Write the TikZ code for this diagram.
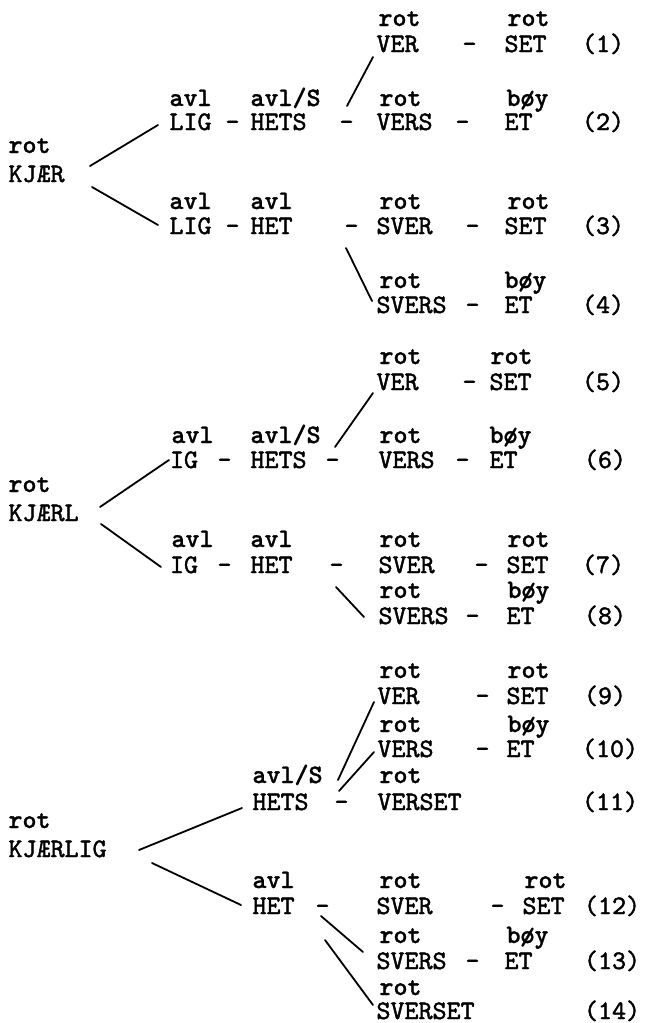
\documentclass[tikz,border=0pt]{standalone}
\usepackage{fontspec}
\newfontfamily\twr{lmmono10-regular.otf}[FakeBold=1.6]
\newfontfamily\twb{lmmonolt10-bold.otf}[FakeBold=1.0]
\begin{document}
\begin{tikzpicture}[x=1pt,y=-1pt,
  w/.style={anchor=base west,inner sep=0pt,outer sep=0pt,font=\twr\fontsize{26.7}{30}\selectfont},
  lb/.style={anchor=base west,inner sep=0pt,outer sep=0pt,font=\twb\fontsize{26.7}{30}\selectfont},
  conn/.style={line width=1.8pt,line cap=round}]
\fill[white] (0,0) rectangle (659,1023);
\useasboundingbox (0,0) rectangle (659,1023);
% ---------- roots
\node[lb] (ra) at (8.5,153) {rot};
\node[w]  (rA) at (8.5,182) {KJÆR};
\node[lb] (rb) at (8.5,492) {rot};
\node[w]  (rB) at (8.5,521) {KJÆRL};
\node[lb] (rc) at (8.5,828) {rot};
\node[w]  (rC) at (8.5,857) {KJÆRLIG};
% ---------- row 1
\node[lb] (l1a) at (378.5,26) {rot};
\node[lb] (l1b) at (507.5,26) {rot};
\node[w] (w1a) at (376.5,52) {VER};
\node[w] (w1b) at (462.5,52) {-};
\node[w] (w1c) at (504.5,52) {SET};
\node[w] (n1) at (582,52) {(1)};
% ---------- row 2
\node[lb] (l2a) at (169.5,106) {avl};
\node[lb] (l2b) at (250.5,106) {avl/S};
\node[lb] (l2c) at (379.5,106) {rot};
\node[lb] (l2d) at (506.5,106) {bøy};
\node[w] (w2a) at (169.5,130) {LIG};
\node[w] (w2b) at (225.5,130) {-};
\node[w] (w2c) at (250.5,130) {HETS};
\node[w] (w2d) at (339.5,130) {-};
\node[w] (w2e) at (376.5,130) {VERS};
\node[w] (w2f) at (455.5,130) {-};
\node[w] (w2g) at (504.5,130) {ET};
\node[w] (n2) at (582,130) {(2)};
% ---------- row 3
\node[lb] (l3a) at (169.5,209) {avl};
\node[lb] (l3b) at (250.5,209) {avl};
\node[lb] (l3c) at (379.5,209) {rot};
\node[lb] (l3d) at (507.5,209) {rot};
\node[w] (w3a) at (169.5,234) {LIG};
\node[w] (w3b) at (225.5,234) {-};
\node[w] (w3c) at (250.5,234) {HET};
\node[w] (w3d) at (344.5,234) {-};
\node[w] (w3e) at (376.5,234) {SVER};
\node[w] (w3f) at (465.5,234) {-};
\node[w] (w3g) at (504.5,234) {SET};
\node[w] (n3) at (582,234) {(3)};
% ---------- row 4
\node[lb] (l4a) at (379.5,288) {rot};
\node[lb] (l4b) at (504.5,288) {bøy};
\node[w] (w4a) at (376.5,313) {SVERS};
\node[w] (w4b) at (465.5,313) {-};
\node[w] (w4c) at (504.5,313) {ET};
\node[w] (n4) at (582,313) {(4)};
% ---------- row 5
\node[lb] (l5a) at (379.5,364) {rot};
\node[lb] (l5b) at (490.5,364) {rot};
\node[w] (w5a) at (376.5,390) {VER};
\node[w] (w5b) at (462.5,390) {-};
\node[w] (w5c) at (489.5,390) {SET};
\node[w] (n5) at (582,390) {(5)};
% ---------- row 6
\node[lb] (l6a) at (171.5,443) {avl};
\node[lb] (l6b) at (250.5,443) {avl/S};
\node[lb] (l6c) at (379.5,443) {rot};
\node[lb] (l6d) at (489.5,443) {bøy};
\node[w] (w6a) at (170,468) {IG};
\node[w] (w6b) at (217.5,468) {-};
\node[w] (w6c) at (250.5,468) {HETS};
\node[w] (w6d) at (325.5,468) {-};
\node[w] (w6e) at (378.5,468) {VERS};
\node[w] (w6f) at (455.5,468) {-};
\node[w] (w6g) at (489.5,468) {ET};
\node[w] (n6) at (584,468) {(6)};
% ---------- row 7
\node[lb] (l7a) at (171.5,547) {avl};
\node[lb] (l7b) at (250.5,547) {avl};
\node[lb] (l7c) at (379.5,547) {rot};
\node[lb] (l7d) at (507.5,547) {rot};
\node[w] (w7a) at (170,573) {IG};
\node[w] (w7b) at (217.5,573) {-};
\node[w] (w7c) at (250.5,573) {HET};
\node[w] (w7d) at (329.5,573) {-};
\node[w] (w7e) at (378.5,573) {SVER};
\node[w] (w7f) at (474.5,573) {-};
\node[w] (w7g) at (506.5,573) {SET};
\node[w] (n7) at (582,573) {(7)};
% ---------- row 8
\node[lb] (l8a) at (379.5,598) {rot};
\node[lb] (l8b) at (507.5,598) {bøy};
\node[w] (w8a) at (378.5,624) {SVERS};
\node[w] (w8b) at (465.5,624) {-};
\node[w] (w8c) at (506.5,624) {ET};
\node[w] (n8) at (584,624) {(8)};
% ---------- row 9
\node[lb] (l9a) at (379.5,678) {rot};
\node[lb] (l9b) at (507.5,678) {rot};
\node[w] (w9a) at (377.5,704) {VER};
\node[w] (w9b) at (475.5,704) {-};
\node[w] (w9c) at (506.5,704) {SET};
\node[w] (n9) at (584,704) {(9)};
% ---------- row 10
\node[lb] (l10a) at (379.5,732) {rot};
\node[lb] (l10b) at (507.5,732) {bøy};
\node[w] (w10a) at (377.5,757) {VERS};
\node[w] (w10b) at (475.5,757) {-};
\node[w] (w10c) at (506.5,757) {ET};
\node[w] (n10) at (582,757) {(10)};
% ---------- row 11
\node[lb] (l11a) at (252.5,783) {avl/S};
\node[lb] (l11b) at (379.5,783) {rot};
\node[w] (w11a) at (252.5,810) {HETS};
\node[w] (w11b) at (334.5,810) {-};
\node[w] (w11c) at (377.5,810) {VERSET};
\node[w] (n11) at (582,810) {(11)};
% ---------- row 12
\node[lb] (l12a) at (252.5,888) {avl};
\node[lb] (l12b) at (379.5,888) {rot};
\node[lb] (l12c) at (524.5,888) {rot};
\node[w] (w12a) at (252.5,914) {HET};
\node[w] (w12b) at (315.5,914) {-};
\node[w] (w12c) at (376.5,914) {SVER};
\node[w] (w12d) at (490.5,914) {-};
\node[w] (w12e) at (522.5,914) {SET};
\node[w] (n12) at (584,914) {(12)};
% ---------- row 13
\node[lb] (l13a) at (379.5,943) {rot};
\node[lb] (l13b) at (506.5,943) {bøy};
\node[w] (w13a) at (376.5,969) {SVERS};
\node[w] (w13b) at (465.5,969) {-};
\node[w] (w13c) at (504.5,969) {ET};
\node[w] (n13) at (584,969) {(13)};
% ---------- row 14
\node[lb] (l14a) at (379.5,995) {rot};
\node[w] (w14a) at (376.5,1019) {SVERSET};
\node[w] (n14) at (584,1019) {(14)};
% ---------- connector end points
\coordinate (a1) at (90,166);   \coordinate (b1) at (158,125);
\coordinate (a2) at (92,187);   \coordinate (b2) at (158,225);
\coordinate (a3) at (100,507);  \coordinate (b3) at (169,460);
\coordinate (a4) at (101,524);  \coordinate (b4) at (161,567);
\coordinate (a5) at (139,850);  \coordinate (b5) at (242,808);
\coordinate (a6) at (152,863);  \coordinate (b6) at (241,905);
\coordinate (c1) at (373,57);   \coordinate (d1) at (347,106);
\coordinate (c2) at (346,248);  \coordinate (d2) at (372,301);
\coordinate (c3) at (373,393);  \coordinate (d3) at (335,447);
\coordinate (c4) at (336,587);  \coordinate (d4) at (364,617);
\coordinate (c5) at (374,702);  \coordinate (d5) at (338,780);
\coordinate (c6) at (374,752);  \coordinate (d6) at (339,791);
\coordinate (c7) at (321,916);  \coordinate (d7) at (363,952);
\coordinate (c8) at (325,940);  \coordinate (d8) at (373,1005);
\draw[conn] (a1) -- (b1);
\draw[conn] (a2) -- (b2);
\draw[conn] (a3) -- (b3);
\draw[conn] (a4) -- (b4);
\draw[conn] (a5) -- (b5);
\draw[conn] (a6) -- (b6);
\draw[conn] (c1) -- (d1);
\draw[conn] (c2) -- (d2);
\draw[conn] (c3) -- (d3);
\draw[conn] (c4) -- (d4);
\draw[conn] (c5) -- (d5);
\draw[conn] (c6) -- (d6);
\draw[conn] (c7) -- (d7);
\draw[conn] (c8) -- (d8);
\end{tikzpicture}
\end{document}
